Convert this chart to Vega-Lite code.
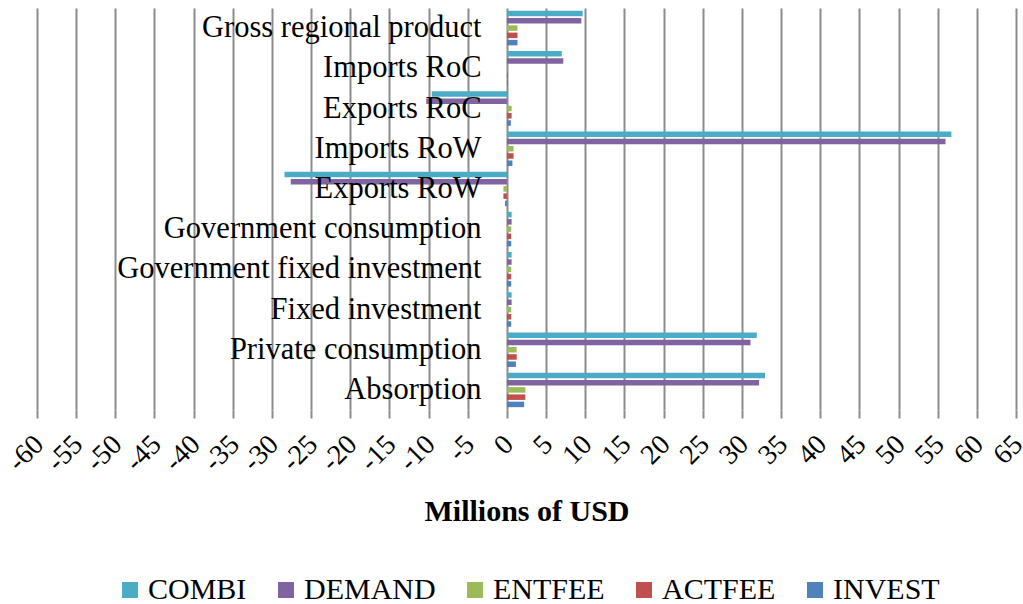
{
  "$schema": "https://vega.github.io/schema/vega-lite/v6.json",
  "width": 979,
  "height": 402,
  "autosize": {"type": "none"},
  "padding": {"left": 37, "top": 8, "right": 7, "bottom": 194},
  "background": "white",
  "config": {"font": "Times New Roman", "view": {"stroke": null}},
  "data": {
    "values": [
      {"category": "Gross regional product", "series": "COMBI", "value": 9.67},
      {"category": "Gross regional product", "series": "DEMAND", "value": 9.5},
      {"category": "Gross regional product", "series": "ENTFEE", "value": 1.35},
      {"category": "Gross regional product", "series": "ACTFEE", "value": 1.35},
      {"category": "Gross regional product", "series": "INVEST", "value": 1.35},
      {"category": "Imports RoC", "series": "COMBI", "value": 7.0},
      {"category": "Imports RoC", "series": "DEMAND", "value": 7.2},
      {"category": "Imports RoC", "series": "ENTFEE", "value": 0.05},
      {"category": "Imports RoC", "series": "ACTFEE", "value": 0.1},
      {"category": "Imports RoC", "series": "INVEST", "value": 0.1},
      {"category": "Exports RoC", "series": "COMBI", "value": -9.6},
      {"category": "Exports RoC", "series": "DEMAND", "value": -10.3},
      {"category": "Exports RoC", "series": "ENTFEE", "value": 0.6},
      {"category": "Exports RoC", "series": "ACTFEE", "value": 0.6},
      {"category": "Exports RoC", "series": "INVEST", "value": 0.5},
      {"category": "Imports RoW", "series": "COMBI", "value": 56.75},
      {"category": "Imports RoW", "series": "DEMAND", "value": 56.0},
      {"category": "Imports RoW", "series": "ENTFEE", "value": 0.85},
      {"category": "Imports RoW", "series": "ACTFEE", "value": 0.85},
      {"category": "Imports RoW", "series": "INVEST", "value": 0.7},
      {"category": "Exports RoW", "series": "COMBI", "value": -28.4},
      {"category": "Exports RoW", "series": "DEMAND", "value": -27.6},
      {"category": "Exports RoW", "series": "ENTFEE", "value": -0.45},
      {"category": "Exports RoW", "series": "ACTFEE", "value": -0.45},
      {"category": "Exports RoW", "series": "INVEST", "value": -0.25},
      {"category": "Government consumption", "series": "COMBI", "value": 0.6},
      {"category": "Government consumption", "series": "DEMAND", "value": 0.6},
      {"category": "Government consumption", "series": "ENTFEE", "value": 0.55},
      {"category": "Government consumption", "series": "ACTFEE", "value": 0.55},
      {"category": "Government consumption", "series": "INVEST", "value": 0.55},
      {"category": "Government fixed investment", "series": "COMBI", "value": 0.6},
      {"category": "Government fixed investment", "series": "DEMAND", "value": 0.6},
      {"category": "Government fixed investment", "series": "ENTFEE", "value": 0.55},
      {"category": "Government fixed investment", "series": "ACTFEE", "value": 0.55},
      {"category": "Government fixed investment", "series": "INVEST", "value": 0.55},
      {"category": "Fixed investment", "series": "COMBI", "value": 0.6},
      {"category": "Fixed investment", "series": "DEMAND", "value": 0.6},
      {"category": "Fixed investment", "series": "ENTFEE", "value": 0.55},
      {"category": "Fixed investment", "series": "ACTFEE", "value": 0.55},
      {"category": "Fixed investment", "series": "INVEST", "value": 0.55},
      {"category": "Private consumption", "series": "COMBI", "value": 31.9},
      {"category": "Private consumption", "series": "DEMAND", "value": 31.1},
      {"category": "Private consumption", "series": "ENTFEE", "value": 1.24},
      {"category": "Private consumption", "series": "ACTFEE", "value": 1.25},
      {"category": "Private consumption", "series": "INVEST", "value": 1.15},
      {"category": "Absorption", "series": "COMBI", "value": 32.95},
      {"category": "Absorption", "series": "DEMAND", "value": 32.2},
      {"category": "Absorption", "series": "ENTFEE", "value": 2.35},
      {"category": "Absorption", "series": "ACTFEE", "value": 2.35},
      {"category": "Absorption", "series": "INVEST", "value": 2.2}
    ]
  },
  "mark": {"type": "bar"},
  "encoding": {
    "y": {
      "field": "category",
      "type": "nominal",
      "sort": ["Gross regional product", "Imports RoC", "Exports RoC", "Imports RoW", "Exports RoW", "Government consumption", "Government fixed investment", "Fixed investment", "Private consumption", "Absorption"],
      "scale": {"paddingInner": 0, "paddingOuter": 0},
      "axis": {
        "title": null,
        "offset": -470,
        "domain": false,
        "ticks": false,
        "labelFont": "Times New Roman",
        "labelFontSize": 30.5,
        "labelColor": "black",
        "labelPadding": 26,
        "labelLimit": 0,
        "labelOverlap": false,
        "zindex": 1
      }
    },
    "x": {
      "field": "value",
      "type": "quantitative",
      "scale": {"domain": [-60, 65], "nice": false, "zero": false},
      "axis": {
        "values": [-60, -55, -50, -45, -40, -35, -30, -25, -20, -15, -10, -5, 0, 5, 10, 15, 20, 25, 30, 35, 40, 45, 50, 55, 60, 65],
        "labelExpr": "'' + datum.value",
        "title": "Millions of USD",
        "titleFont": "Times New Roman",
        "titleFontSize": 30,
        "titleFontWeight": "bold",
        "titleColor": "black",
        "titlePadding": 20,
        "labelFont": "Times New Roman",
        "labelAngle": -45,
        "labelFontSize": 28,
        "labelColor": "black",
        "labelPadding": 12,
        "labelOffset": -8,
        "labelOverlap": false,
        "labelBound": false,
        "grid": true,
        "gridColor": "#8c8c8c",
        "gridWidth": 2,
        "domain": false,
        "tickColor": "#8c8c8c",
        "tickSize": 8,
        "tickWidth": 2
      }
    },
    "yOffset": {
      "field": "series",
      "sort": ["COMBI", "DEMAND", "ENTFEE", "ACTFEE", "INVEST"],
      "scale": {"paddingInner": 0.24, "paddingOuter": 0.39}
    },
    "color": {
      "field": "series",
      "type": "nominal",
      "sort": ["COMBI", "DEMAND", "ENTFEE", "ACTFEE", "INVEST"],
      "scale": {
        "domain": ["COMBI", "DEMAND", "ENTFEE", "ACTFEE", "INVEST"],
        "range": ["#4BACC6", "#8064A2", "#9BBB59", "#C0504D", "#4F81BD"]
      },
      "legend": {
        "title": null,
        "orient": "none",
        "direction": "horizontal",
        "columns": 5,
        "legendX": 78,
        "legendY": 567,
        "symbolType": "square",
        "symbolSize": 256,
        "symbolStrokeWidth": 0,
        "symbolOpacity": 1,
        "labelFont": "Times New Roman",
        "labelFontSize": 30,
        "labelColor": "black",
        "labelOffset": 3,
        "columnPadding": 24,
        "labelLimit": 0
      }
    }
  }
}
